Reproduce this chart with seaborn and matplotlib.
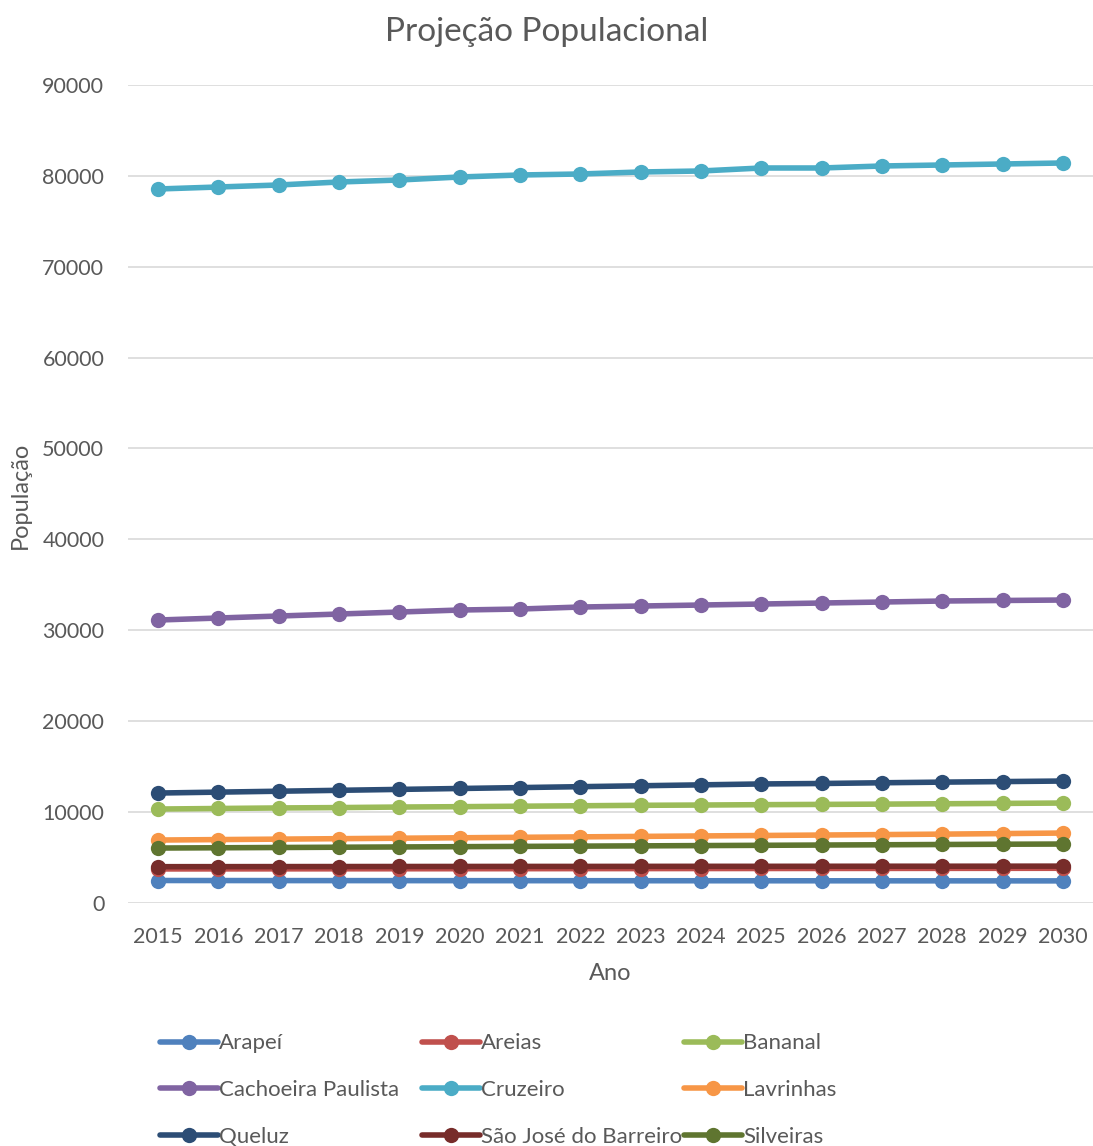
import pandas as pd
import matplotlib.pyplot as plt
import seaborn as sns

# === DATA ===
years = list(range(2015, 2031))

arapei = [2480, 2475, 2470, 2468, 2465, 2462, 2460, 2458, 2455, 2452, 2450, 2448, 2445, 2442, 2440, 2438]
areias = [3750, 3755, 3760, 3765, 3770, 3775, 3780, 3785, 3790, 3795, 3800, 3805, 3810, 3815, 3820, 3825]
bananal = [10340, 10400, 10460, 10500, 10560, 10600, 10650, 10700, 10750, 10780, 10820, 10850, 10880, 10920, 10960, 11000]
cachoeira = [31130, 31350, 31570, 31790, 32010, 32230, 32340, 32560, 32670, 32780, 32890, 33000, 33110, 33220, 33280, 33330]
cruzeiro = [78540, 78760, 78980, 79310, 79530, 79860, 80080, 80190, 80410, 80520, 80850, 80850, 81070, 81180, 81290, 81400]
lavrinhas = [6930, 6980, 7030, 7080, 7130, 7180, 7230, 7280, 7330, 7380, 7430, 7480, 7530, 7580, 7640, 7700]
queluz = [12100, 12200, 12300, 12400, 12500, 12600, 12700, 12800, 12900, 13000, 13100, 13150, 13230, 13300, 13360, 13420]
sao_jose = [4000, 4005, 4010, 4015, 4020, 4025, 4030, 4030, 4035, 4040, 4040, 4045, 4050, 4050, 4055, 4060]
silveiras = [6050, 6080, 6110, 6140, 6170, 6200, 6230, 6260, 6290, 6320, 6350, 6380, 6410, 6440, 6470, 6490]

cities = ["Arapeí", "Areias", "Bananal", "Cachoeira Paulista", "Cruzeiro",
          "Lavrinhas", "Queluz", "São José do Barreiro", "Silveiras"]
series = [arapei, areias, bananal, cachoeira, cruzeiro, lavrinhas, queluz, sao_jose, silveiras]
colors = ["#4F81BD", "#C0504D", "#9BBB59", "#8064A2", "#4BACC6",
          "#F79646", "#2C4D75", "#772C2A", "#5F7530"]

# long-form table for seaborn
rows = []
for city, vals in zip(cities, series):
    for i, v in enumerate(vals):
        rows.append({"Ano": i, "População": v, "Cidade": city})
df = pd.DataFrame(rows)

sns.set_style("white")
plt.rcParams['font.family'] = ['Lato', 'DejaVu Sans']
GREY = "#595959"

fig = plt.figure(figsize=(10.93, 11.46), dpi=100)
ax = fig.add_axes([0.117, 0.212, 0.883, 0.714])

sns.lineplot(data=df, x="Ano", y="População", hue="Cidade", hue_order=cities,
             palette=colors, marker="o", markersize=11, markeredgewidth=0,
             linewidth=4, ax=ax, legend=False)

ax.set_xlim(-0.5, 15.5)
ax.set_ylim(0, 90000)
ax.set_yticks(range(0, 90001, 10000))
ax.set_xticks(range(len(years)))
ax.set_xticklabels([str(y) for y in years])
ax.tick_params(axis="both", labelsize=15.5, colors=GREY, length=0)
ax.tick_params(axis="y", pad=17)
ax.tick_params(axis="x", pad=17)
ax.yaxis.grid(True, color="#D9D9D9", linewidth=1.2)
ax.set_axisbelow(True)
for s in ax.spines.values():
    s.set_visible(False)
ax.set_xlabel("")
ax.set_ylabel("")

fig.text(0.5, 1 - 32 / 1146, "Projeção Populacional", fontsize=24, color=GREY,
         ha="center", va="center")
fig.text(610 / 1093, 1 - 973 / 1146, "Ano", fontsize=17, color=GREY,
         ha="center", va="center")
fig.text(20 / 1093, 1 - 495 / 1146, "População", fontsize=17, color=GREY,
         ha="center", va="center", rotation=90)

# legend: three fixed-width columns, filled row by row
handles = [plt.Line2D([], [], color=c, marker="o", markersize=11, markeredgewidth=0,
                      linewidth=4) for c in colors]
col_x = [160, 422, 684]
for col in range(3):
    idx = [col, col + 3, col + 6]
    fig.legend([handles[i] for i in idx], [cities[i] for i in idx],
               loc="center left", bbox_to_anchor=(col_x[col] / 1093, 1 - 1090 / 1146),
               ncol=1, frameon=False, fontsize=16, labelcolor=GREY,
               handlelength=2.6, handletextpad=0.05, labelspacing=1.2,
               borderpad=0, borderaxespad=0)

plt.savefig("out.png", dpi=100)
